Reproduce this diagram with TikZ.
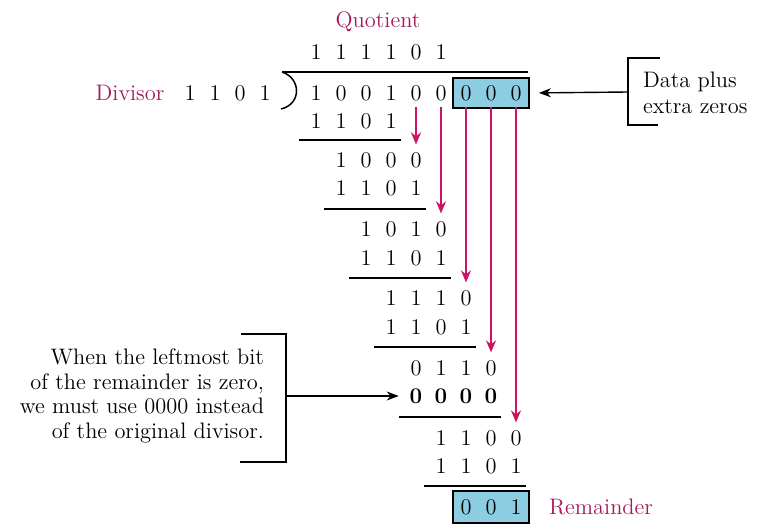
\documentclass[tikz,border=0pt]{standalone}
\usepackage{tikz}
\usetikzlibrary{arrows.meta, positioning, fit, calc, backgrounds}

\definecolor{labelred}{RGB}{163,25,90}
\definecolor{arrowred}{RGB}{208,18,100}
\definecolor{boxblue}{RGB}{140,205,226}

\begin{document}
\begin{tikzpicture}[x=0.5pt, y=-0.5pt,
    every node/.style={font=\fontsize{11.2}{12.3}\selectfont},
    dig/.style={inner sep=0pt, text height=7.2pt, text depth=0pt, minimum width=6pt},
    rule/.style={line width=0.75pt},
    bitarrow/.style={draw=arrowred, line width=1pt, -{Stealth[length=6pt, width=5pt]}, shorten <=3pt, shorten >=4pt},
    callarrow/.style={line width=0.7pt, -{Stealth[length=6pt, width=4.5pt]}},
    hilite/.style={draw, line width=0.9pt, fill=boxblue}]

    \useasboundingbox (0,0) rectangle (769,529);

    % Labels
    \node[text=labelred] (quot) at (378,22) {Quotient};
    \node[text=labelred] (divlbl) at (130,93) {Divisor};
    \node[text=labelred] (remlbl) at (601,507) {Remainder};

    % Divisor
    \foreach \d [count=\c from 1] in {1,1,0,1}
        \node[dig] (dvs\c) at ({165+25*\c},93) {\d};

    % Quotient and dividend
    \foreach \d [count=\c from 1] in {1,1,1,1,0,1}
        \node[dig] (q\c) at ({291+25*\c},52) {\d};
    \foreach \d [count=\c from 1] in {1,0,0,1,0,0,0,0,0}
        \node[dig] (dv\c) at ({291+25*\c},93) {\d};

    % Division bar
    \coordinate (barL) at (282,72);
    \coordinate (barR) at (528,72);
    \draw[rule] (barL) -- (barR);
    \draw[rule] (barL) .. controls (301,78) and (302,104) .. (281,109);

    % Steps
    \foreach \d [count=\c from 1] in {1,1,0,1}
        \node[dig] (s1-\c) at ({291+25*\c},121) {\d};
    \foreach \d [count=\c from 2] in {1,0,0,0}
        \node[dig] (r1-\c) at ({291+25*\c},160) {\d};
    \foreach \d [count=\c from 2] in {1,1,0,1}
        \node[dig] (s2-\c) at ({291+25*\c},188) {\d};
    \foreach \d [count=\c from 3] in {1,0,1,0}
        \node[dig] (r2-\c) at ({291+25*\c},229) {\d};
    \foreach \d [count=\c from 3] in {1,1,0,1}
        \node[dig] (s3-\c) at ({291+25*\c},258) {\d};
    \foreach \d [count=\c from 4] in {1,1,1,0}
        \node[dig] (r3-\c) at ({291+25*\c},298) {\d};
    \foreach \d [count=\c from 4] in {1,1,0,1}
        \node[dig] (s4-\c) at ({291+25*\c},327) {\d};
    \foreach \d [count=\c from 5] in {0,1,1,0}
        \node[dig] (r4-\c) at ({291+25*\c},368) {\d};
    \foreach \d [count=\c from 5] in {0,0,0,0}
        \node[dig, font=\fontsize{11.2}{12.3}\selectfont\bfseries] (s5-\c) at ({291+25*\c},396) {\d};
    \foreach \d [count=\c from 6] in {1,1,0,0}
        \node[dig] (r5-\c) at ({291+25*\c},438) {\d};
    \foreach \d [count=\c from 6] in {1,1,0,1}
        \node[dig] (s6-\c) at ({291+25*\c},466) {\d};
    \foreach \d [count=\c from 7] in {0,0,1}
        \node[dig] (rm\c) at ({291+25*\c},507) {\d};

    % Subtraction rules
    \draw[rule] ($(s1-1)+(-17,19)$) -- ($(s1-4)+(10,19)$);
    \draw[rule] ($(s2-2)+(-17,21)$) -- ($(s2-5)+(10,21)$);
    \draw[rule] ($(s3-3)+(-17,20)$) -- ($(s3-6)+(10,20)$);
    \draw[rule] ($(s4-4)+(-17,20)$) -- ($(s4-7)+(10,20)$);
    \draw[rule] ($(s5-5)+(-17,21)$) -- ($(s5-8)+(10,21)$);
    \draw[rule] ($(s6-6)+(-17,20)$) -- ($(s6-9)+(10,20)$);

    % Boxes
    \begin{scope}[on background layer]
        \node[hilite, fit=(dv7)(dv9), inner xsep=3.3pt, inner ysep=3.6pt] (xbox) {};
        \node[hilite, fit=(rm7)(rm9), inner xsep=3.3pt, inner ysep=4.1pt] (rbox) {};
    \end{scope}

    % Bits brought down
    \draw[bitarrow] (dv5.south) -- (r1-5.north);
    \draw[bitarrow] (dv6.south) -- (r2-6.north);
    \draw[bitarrow] (dv7.south) -- (r3-7.north);
    \draw[bitarrow] (dv8.south) -- (r4-8.north);
    \draw[bitarrow] (dv9.south) -- (r5-9.north);

    % Callout right
    \node[align=left, anchor=west] (extra) at (636,93) {Data plus\\[1pt]extra zeros};
    \coordinate (rbrk) at (628,92);
    \draw[line width=0.7pt] (660,58) -- (628,58) -- (628,125) -- (658,125);
    \draw[callarrow, shorten >=4.5pt] (rbrk) -- (xbox.east);

    % Callout left
    \node[align=right, anchor=east] (note) at (271,396) {When the leftmost bit\\of the remainder is zero,\\we must use 0000 instead\\of the original divisor.};
    \coordinate (lbrk) at (286,396);
    \draw[line width=0.7pt] (241,334) -- (286,334) -- (286,462) -- (240,462);
    \draw[callarrow, shorten >=5.3pt] (lbrk) -- (s5-5.west);
\end{tikzpicture}
\end{document}
